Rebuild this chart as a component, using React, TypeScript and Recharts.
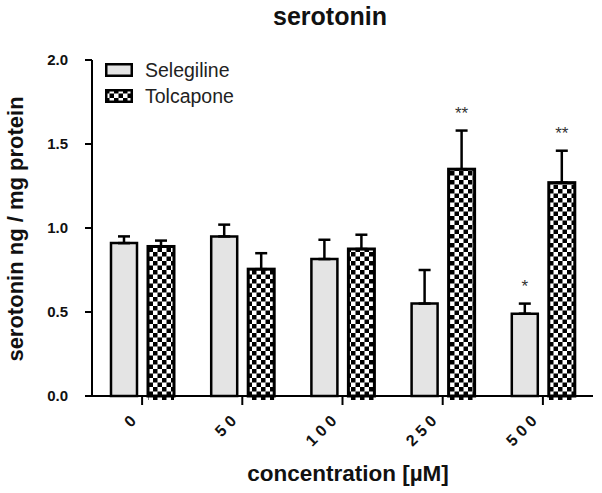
import { BarChart, Bar, XAxis, YAxis, ErrorBar, LabelList } from 'recharts'

const categories = ['0', '5 0', '1 0 0', '2 5 0', '5 0 0']
const selegiline = [0.91, 0.95, 0.815, 0.55, 0.49]
const selegilineErr = [0.04, 0.07, 0.115, 0.2, 0.06]
const tolcapone = [0.89, 0.755, 0.875, 1.35, 1.27]
const tolcaponeErr = [0.035, 0.095, 0.085, 0.23, 0.19]
const selegilineStars = ['', '', '', '', '*']
const tolcaponeStars = ['', '', '', '**', '**']
const yTicks = [0, 0.5, 1.0, 1.5, 2.0]

const data = categories.map((c, i) => ({
  conc: c,
  selegiline: selegiline[i],
  selegilineErr: [0, selegilineErr[i]],
  selegilineStar: selegilineStars[i],
  tolcapone: tolcapone[i],
  tolcaponeErr: [0, tolcaponeErr[i]],
  tolcaponeStar: tolcaponeStars[i],
}))

const FONT = '"Liberation Sans", Arial, sans-serif'

function XTick({ x, y, payload }: any) {
  return (
    <g transform={`translate(${x - 9},${y + 13})`}>
      <text
        x={0}
        y={0}
        dy="0.35em"
        textAnchor="end"
        transform="rotate(-45)"
        fontFamily={FONT}
        fontWeight="bold"
        fontSize={16}
        fill="#111"
      >
        {payload.value}
      </text>
    </g>
  )
}

function YTick({ x, y, payload }: any) {
  return (
    <text
      x={x}
      y={y}
      dy="0.3em"
      textAnchor="end"
      fontFamily={FONT}
      fontWeight="bold"
      fontSize={15}
      fill="#111"
    >
      {Number(payload.value).toFixed(1)}
    </text>
  )
}

function starLabel(values: number[], errs: number[]) {
  return (props: any) => {
    const { x, y, width, height, value, index } = props
    if (!value) return null
    const errPx = (errs[index] * height) / values[index]
    return (
      <text
        x={x + width / 2}
        y={y - errPx - 12}
        textAnchor="middle"
        fontFamily={FONT}
        fontSize={17}
        fill="#333"
      >
        {value}
      </text>
    )
  }
}

function CheckerBar(props: any) {
  const { x, y, width, height } = props
  return (
    <g>
      <rect x={x} y={y} width={width} height={height + 4} fill="url(#checker)" />
      <rect x={x} y={y} width={width} height={height} fill="none" stroke="#000" strokeWidth={3} />
    </g>
  )
}

export default function App() {
  return (
    <div style={{ position: 'absolute', left: 0, top: 0, width: 602, height: 493, background: '#fff' }}>
      <svg width={0} height={0} style={{ position: 'absolute' }}>
        <defs>
          <pattern id="checker" width={9} height={9} patternUnits="userSpaceOnUse">
            <rect width={9} height={9} fill="#fff" />
            <rect x={0} y={0} width={4.5} height={4.5} fill="#000" />
            <rect x={4.5} y={4.5} width={4.5} height={4.5} fill="#000" />
          </pattern>
        </defs>
      </svg>

      <BarChart
        width={602}
        height={493}
        data={data}
        margin={{ top: 60, right: 9, left: 0, bottom: 37 }}
        barSize={26}
        barGap={11}
      >
        <XAxis
          dataKey="conc"
          height={60}
          tick={<XTick />}
          tickSize={9}
          tickMargin={0}
          axisLine={{ stroke: '#000', strokeWidth: 2 }}
          tickLine={{ stroke: '#000', strokeWidth: 2 }}
          interval={0}
        />
        <YAxis
          width={92}
          domain={[0, 2]}
          ticks={yTicks}
          tick={<YTick />}
          tickSize={7}
          tickMargin={17}
          axisLine={{ stroke: '#000', strokeWidth: 2 }}
          tickLine={{ stroke: '#000', strokeWidth: 2 }}
        />
        <Bar dataKey="selegiline" fill="#e4e4e4" stroke="#000" strokeWidth={2.5} isAnimationActive={false}>
          <ErrorBar dataKey="selegilineErr" width={6} stroke="#000" strokeWidth={2.5} />
          <LabelList dataKey="selegilineStar" content={starLabel(selegiline, selegilineErr)} />
        </Bar>
        <Bar dataKey="tolcapone" shape={<CheckerBar />} isAnimationActive={false}>
          <ErrorBar dataKey="tolcaponeErr" width={6} stroke="#000" strokeWidth={2.5} />
          <LabelList dataKey="tolcaponeStar" content={starLabel(tolcapone, tolcaponeErr)} />
        </Bar>
      </BarChart>

      <div
        style={{
          position: 'absolute',
          left: 330,
          top: 16,
          transform: 'translate(-50%, -50%)',
          fontFamily: FONT,
          fontWeight: 'bold',
          fontSize: 25,
          whiteSpace: 'nowrap',
          color: '#111',
        }}
      >
        serotonin
      </div>
      <div
        style={{
          position: 'absolute',
          left: 348,
          top: 474,
          transform: 'translate(-50%, -50%)',
          fontFamily: FONT,
          fontWeight: 'bold',
          fontSize: 22.5,
          whiteSpace: 'nowrap',
          color: '#111',
        }}
      >
        concentration [µM]
      </div>
      <div
        style={{
          position: 'absolute',
          left: 16,
          top: 229,
          transform: 'translate(-50%, -50%) rotate(-90deg)',
          fontFamily: FONT,
          fontWeight: 'bold',
          fontSize: 22,
          whiteSpace: 'nowrap',
          color: '#111',
        }}
      >
        serotonin ng / mg protein
      </div>

      <div style={{ position: 'absolute', left: 105, top: 57, fontFamily: FONT, fontSize: 19.5, color: '#222' }}>
        <div style={{ display: 'flex', alignItems: 'center', height: 26 }}>
          <svg width={28} height={14} style={{ marginRight: 12 }}>
            <rect x={1.25} y={1.25} width={25.5} height={11.5} fill="#e4e4e4" stroke="#000" strokeWidth={2.5} />
          </svg>
          Selegiline
        </div>
        <div style={{ display: 'flex', alignItems: 'center', height: 26 }}>
          <svg width={28} height={14} style={{ marginRight: 12 }}>
            <rect x={1.25} y={1.25} width={25.5} height={11.5} fill="url(#checker)" stroke="#000" strokeWidth={2.5} />
          </svg>
          Tolcapone
        </div>
      </div>
    </div>
  )
}
